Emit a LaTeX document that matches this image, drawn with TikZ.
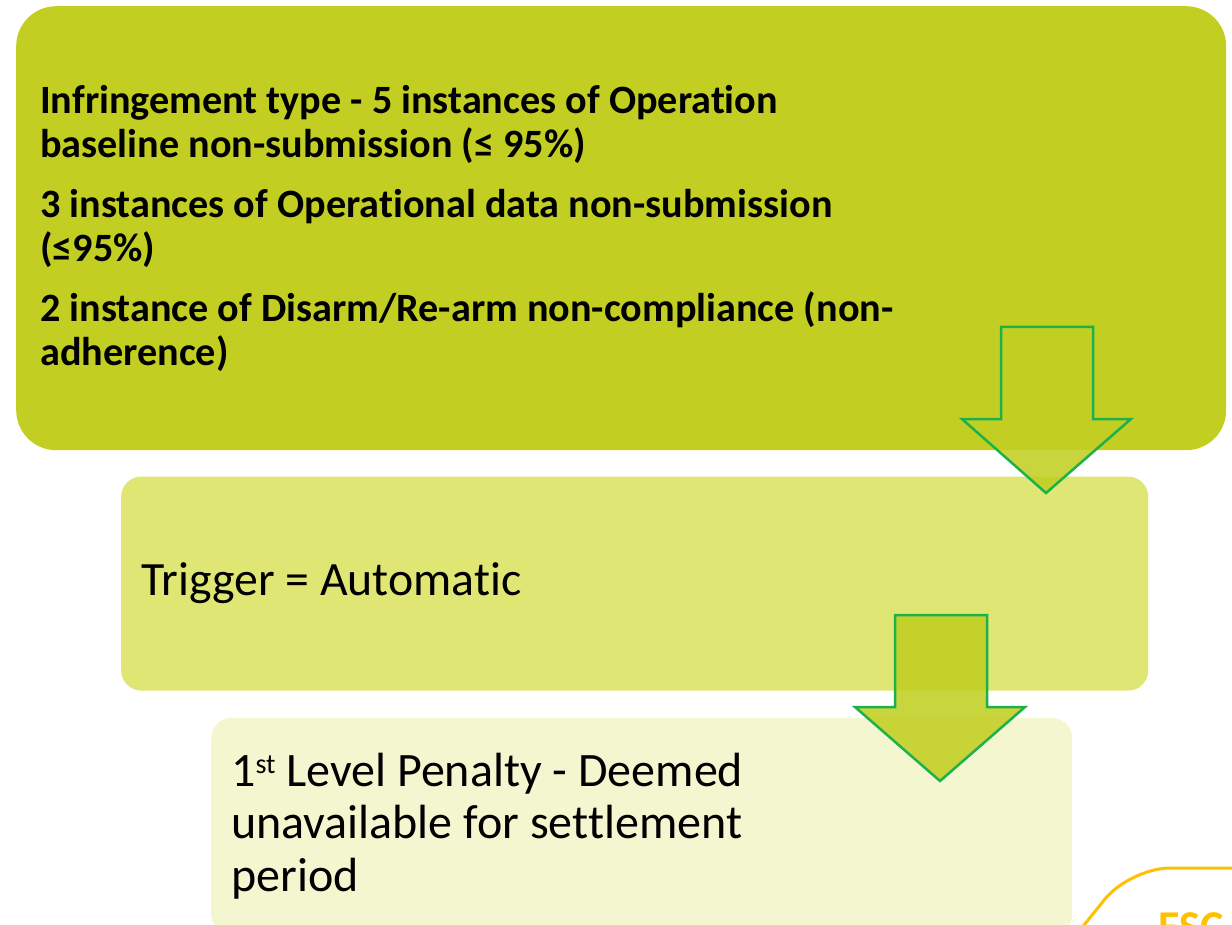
\documentclass[tikz,border=0pt]{standalone}
\usepackage{fontspec}
\setmainfont[Ligatures=NoCommon]{Carlito}
\usetikzlibrary{positioning}
\definecolor{limeA}{RGB}{194,207,34}
\definecolor{limeB}{RGB}{224,230,116}
\definecolor{limeC}{RGB}{243,246,207}
\definecolor{arrowgreen}{RGB}{30,176,75}
\definecolor{escgold}{RGB}{255,192,0}
\newcommand{\narrowsp}{\spaceskip=0.226em\relax}
\begin{document}
\begin{tikzpicture}[x=1pt,y=1pt,
    stagebox/.style={rectangle, rounded corners=#1, anchor=north west, inner ysep=0pt, align=left,
                     execute at begin node=\narrowsp},
    bigarrow/.style={draw=arrowgreen, line width=2.5pt, line join=miter, fill=limeA, fill opacity=0.88}]
\useasboundingbox (0,0) rectangle (1232,-925);
\clip (0,0) rectangle (1232,-925);
% three stages
\node[stagebox=40pt, fill=limeA, inner xsep=24pt, minimum width=1210pt, minimum height=444pt, text width=1162pt,
      font=\fontsize{40.2}{44}\selectfont\bfseries] (infr) at (16,-6)
  {Infringement type - 5 instances of Operation\\ baseline non-submission (≤ 95\%)\\[16pt]
   3 instances of Operational data non-submission\\ (≤95\%)\\[16pt]
   2 instance of Disarm/Re-arm non-compliance (non-\\ adherence)};
\node[stagebox=20pt, fill=limeB, inner xsep=20pt, minimum width=1027pt, minimum height=214pt, text width=987pt,
      font=\fontsize{47.8}{52.7}\selectfont, below right=26pt and 105pt of infr.south west] (trig)
  {Trigger = Automatic};
\node[stagebox=20pt, fill=limeC, inner xsep=20pt, minimum width=861pt, minimum height=216pt, text width=821pt,
      font=\fontsize{48}{52.7}\selectfont, below right=27pt and 90pt of trig.south west] (pen)
  {1\raisebox{13pt}{\fontsize{28}{28}\selectfont st} Level Penalty - Deemed\\ unavailable for settlement\\ period};
% arrows
\draw[bigarrow] (1001,-327) -- (1093,-327) -- (1093,-419) -- (1131,-419) -- (1046,-493) -- (962,-419) -- (1001,-419) -- cycle;
\draw[bigarrow] (895,-615) -- (987,-615) -- (987,-707) -- (1025,-707) -- (940,-781) -- (855,-707) -- (895,-707) -- cycle;
% next slide part
\draw[escgold, line width=3pt, rounded corners=40pt] (1080,-930) -- (1130,-868) -- (1240,-868);
\node[anchor=north west, inner sep=0pt, text=escgold, font=\fontsize{44}{48}\selectfont\bfseries] (esc) at (1158,-912) {ESC};
\end{tikzpicture}
\end{document}
